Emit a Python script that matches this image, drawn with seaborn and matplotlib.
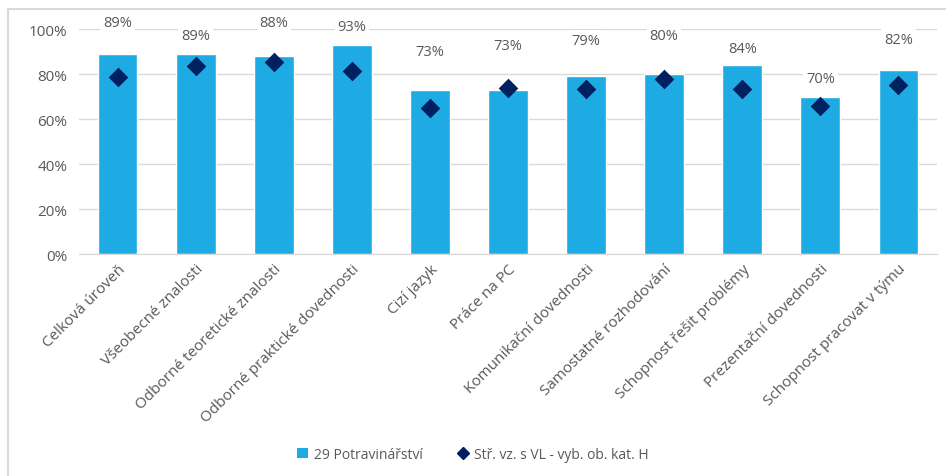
import matplotlib
matplotlib.use("Agg")
import matplotlib.pyplot as plt
import seaborn as sns
from matplotlib.patches import Patch
from matplotlib.lines import Line2D
from matplotlib.ticker import PercentFormatter

# Data
categories = [
    "Celková úroveň", "Všeobecné znalosti", "Odborné teoretické znalosti",
    "Odborné praktické dovednosti", "Cizí jazyk", "Práce na PC",
    "Komunikační dovednosti", "Samostatné rozhodování",
    "Schopnost řešit problémy", "Prezentační dovednosti",
    "Schopnost pracovat v týmu",
]
sector = [0.89, 0.89, 0.88, 0.93, 0.73, 0.73, 0.79, 0.80, 0.84, 0.70, 0.82]
average = [0.787, 0.836, 0.852, 0.815, 0.65, 0.738, 0.733, 0.778, 0.733, 0.66, 0.75]
# where Excel placed the data labels (manually nudged in the original)
label_y = [1.027, 0.973, 1.03, 1.01, 0.90, 0.925, 0.95, 0.97, 0.915, 0.78, 0.955]

series_bar = "29 Potravinářství"
series_pt = "Stř. vz. s VL - vyb. ob. kat. H"

bar_color = "#1EABE3"
pt_color = "#002060"
text_color = "#595959"
grid_color = "#D9D9D9"

sns.set_style("white")
plt.rcParams["font.family"] = ["Open Sans", "DejaVu Sans"]

fig = plt.figure(figsize=(9.46, 4.77), dpi=100)
ax = fig.add_axes([0.083, 0.465, 0.908, 0.472])

sns.barplot(x=categories, y=sector, color=bar_color, width=0.51,
            saturation=1, ax=ax, zorder=2)
sns.stripplot(x=categories, y=average, color=pt_color, marker="D", size=10,
              jitter=False, ax=ax, zorder=3)

for i, (v, ly) in enumerate(zip(sector, label_y)):
    ax.text(i, ly, f"{v:.0%}", ha="center", va="center", fontsize=10.5,
            color=text_color, zorder=4,
            bbox=dict(facecolor="white", edgecolor="none", pad=2))

ax.set_ylim(0, 1)
ax.set_xlim(-0.5, len(categories) - 0.5)
ax.yaxis.set_major_formatter(PercentFormatter(1.0, decimals=0))
ax.set_yticks([0, 0.2, 0.4, 0.6, 0.8, 1.0])
ax.grid(axis="y", color=grid_color, linewidth=1, zorder=0)
ax.set_axisbelow(True)
for s in ["top", "right", "left"]:
    ax.spines[s].set_visible(False)
ax.spines["bottom"].set_color(grid_color)
ax.tick_params(axis="both", length=0, colors=text_color, labelsize=11)
ax.tick_params(axis="y", pad=8)
ax.tick_params(axis="x", pad=5)
plt.setp(ax.get_xticklabels(), rotation=45, ha="right", rotation_mode="anchor")
ax.set_xlabel("")
ax.set_ylabel("")

handles = [
    Patch(facecolor=bar_color, edgecolor="none", label=series_bar),
    Line2D([], [], marker="D", color=pt_color, linestyle="none",
           markersize=6, label=series_pt),
]
fig.legend(handles=handles, loc="center", bbox_to_anchor=(0.5, 0.045),
           ncol=2, frameon=False, fontsize=10, labelcolor=text_color,
           handlelength=0.8, handletextpad=0.4, columnspacing=2.5)

# light frame (top and left edge) like the Excel export
fig.add_artist(Line2D([0.0085, 1.0], [0.979, 0.979], transform=fig.transFigure,
                      color=grid_color, linewidth=1.5))
fig.add_artist(Line2D([0.0085, 0.0085], [0.0, 0.979], transform=fig.transFigure,
                      color=grid_color, linewidth=1.5))

fig.savefig("out.png", dpi=100)
